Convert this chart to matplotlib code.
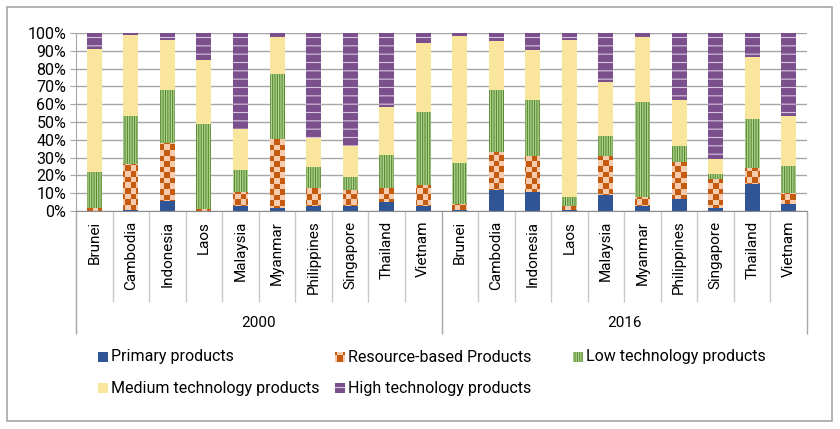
#!/usr/bin/env python
"""
Stacked 100% bars of ASEAN export structure by technology level,
2000 against 2016, redrawn with matplotlib.
"""

import numpy as np
import matplotlib
matplotlib.use('Agg')
import matplotlib.pyplot as plt
from matplotlib.colors import ListedColormap
from matplotlib.patches import Rectangle

YEARS = ['2000', '2016']
COUNTRIES = ['Brunei', 'Cambodia', 'Indonesia', 'Laos', 'Malaysia',
             'Myanmar', 'Philippines', 'Singapore', 'Thailand', 'Vietnam']
SERIES = ['Primary products', 'Resource-based Products',
          'Low technology products', 'Medium technology products',
          'High technology products']

# shares in percent, first ten values are 2000, last ten are 2016
PRIMARY = [0.2, 0.3, 5.8, 0.2, 2.8, 1.9, 2.8, 2.8, 4.9, 2.8,
           0.5, 11.8, 10.9, 0.3, 9.0, 2.8, 7.0, 1.7, 15.2, 3.9]
RESOURCE = [1.3, 26.0, 32.5, 0.8, 7.9, 38.7, 10.2, 9.0, 8.1, 11.9,
            3.4, 21.2, 20.1, 2.3, 22.0, 5.1, 20.3, 16.2, 9.0, 6.3]
LOW_TECH = [20.3, 27.1, 29.4, 48.0, 12.2, 36.4, 12.0, 7.4, 18.4, 40.9,
            23.0, 35.2, 31.2, 5.3, 11.1, 53.2, 9.2, 3.0, 27.5, 15.2]
MEDIUM_TECH = [69.4, 45.6, 28.5, 36.0, 23.0, 20.6, 16.0, 17.5, 27.2, 38.8,
               71.6, 27.1, 28.0, 88.3, 30.1, 36.5, 26.1, 8.2, 34.6, 28.0]
HIGH_TECH = [8.8, 1.0, 3.8, 15.0, 54.1, 2.4, 59.0, 63.3, 41.4, 5.6,
             1.5, 4.7, 9.8, 3.8, 27.8, 2.4, 37.4, 70.9, 13.7, 46.6]

# face colour, hatch colour, hatch pattern (None = plain, 'checker' = image)
STYLES = [
    ('#2f5597', None, None),
    ('#f8cbad', '#c55a11', 'checker'),
    ('#b0d495', '#5b8a2e', '|||||||'),
    ('#fae59c', None, None),
    ('#7b4f8c', '#d9c5e2', '--'),
]

W, H = 840, 429
CELL = 5.5  # checker cell in pixels
GRAY = '#a6a6a6'

plt.rcParams['font.family'] = ['Roboto', 'DejaVu Sans']
plt.rcParams['font.size'] = 11
plt.rcParams['hatch.linewidth'] = 0.8


def checker(ax, patch, face, dark, extent, shape):
    """
    Paints a checkerboard image over the axes, clipped to one patch
    """
    ny, nx = shape
    rows, cols = np.indices((ny, nx))
    board = (rows + cols) % 2
    img = ax.imshow(board, cmap=ListedColormap([face, dark]),
                    extent=extent, aspect='auto', interpolation='nearest',
                    zorder=patch.get_zorder() + 0.1)
    img.set_clip_path(patch)


fig = plt.figure(figsize=(W / 100, H / 100), dpi=100)

# background layer in pixel units for the frame and legend
lax = fig.add_axes([0, 0, 1, 1], zorder=-1)
lax.set_xlim(0, W)
lax.set_ylim(H, 0)
lax.set_autoscale_on(False)
lax.axis('off')
lax.add_patch(Rectangle((7, 7), 825, 414, fill=False, edgecolor=GRAY,
                        linewidth=1.2))

left, bottom, width, height = 76 / W, 1 - 211 / H, 731 / W, 178 / H
ax = fig.add_axes([left, bottom, width, height])
ax.set_facecolor('none')
ax.set_autoscale_on(False)
ax.set_xlim(-0.5, 19.5)
ax.set_ylim(0, 100)
ax.set_axisbelow(True)

nx = int(round(width * W / CELL))
ny = int(round(height * H / CELL))

x = np.arange(len(YEARS) * len(COUNTRIES))
values = [PRIMARY, RESOURCE, LOW_TECH, MEDIUM_TECH, HIGH_TECH]
base = np.zeros(len(x))
for vals, (face, hcol, hatch) in zip(values, STYLES):
    vals = np.array(vals)
    if hatch in (None, 'checker'):
        bars = ax.bar(x, vals, 0.41, bottom=base, color=face, linewidth=0,
                      zorder=2)
    else:
        bars = ax.bar(x, vals, 0.41, bottom=base, color=face,
                      edgecolor=hcol, hatch=hatch, linewidth=0, zorder=2)
    if hatch == 'checker':
        for bar in bars:
            checker(ax, bar, face, hcol, (-0.5, 19.5, 0, 100), (ny, nx))
    base = base + vals

# y axis
ax.set_yticks(np.arange(0, 101, 10))
ax.set_yticklabels([f'{v}%' for v in range(0, 101, 10)], fontsize=11.5)
ax.yaxis.grid(True, color=GRAY, linewidth=1)
ax.tick_params(axis='y', length=4, color=GRAY, pad=3)
for side in ['top', 'right']:
    ax.spines[side].set_visible(False)
ax.spines['left'].set_color(GRAY)
ax.spines['bottom'].set_color('#8c8c8c')

# x axis: country names with the year groups below
ax.set_xticks(x)
ax.set_xticklabels(COUNTRIES * len(YEARS), rotation=90, va='top')
ax.tick_params(axis='x', length=0, pad=7)

trans = ax.get_xaxis_transform()
edges = np.arange(len(x) + 1) - 0.5
inner = [e for i, e in enumerate(edges) if i % len(COUNTRIES)]
outer = [e for i, e in enumerate(edges) if i % len(COUNTRIES) == 0]
ax.vlines(inner, -0.511, 0, transform=trans, clip_on=False,
          color='#c8c8c8', linewidth=1)
ax.vlines(outer, -0.691, 0, transform=trans, clip_on=False,
          color=GRAY, linewidth=1)
for i, year in enumerate(YEARS):
    mid = i * len(COUNTRIES) + (len(COUNTRIES) - 1) / 2
    ax.text(mid, -0.63, year, transform=trans, ha='center', va='center')

# legend laid out like the spreadsheet one, three per row
spots = [(98, 357), (335, 357), (573, 357), (98, 388), (335, 388)]
big = (int(round(H / CELL * 0.9)), int(round(W / CELL * 0.9)))
for name, (face, hcol, hatch), (px, py) in zip(SERIES, STYLES, spots):
    box = Rectangle((px, py - 5), 10, 10, facecolor=face, linewidth=0,
                    zorder=2)
    if hatch not in (None, 'checker'):
        box.set_edgecolor(hcol)
        box.set_hatch(hatch)
        box.set_linewidth(0)
    lax.add_patch(box)
    if hatch == 'checker':
        checker(lax, box, face, hcol, (0, W, H, 0), big)
    lax.text(px + 13, py, name, va='center', ha='left', fontsize=11.5)

fig.savefig('out.png', dpi=100)
